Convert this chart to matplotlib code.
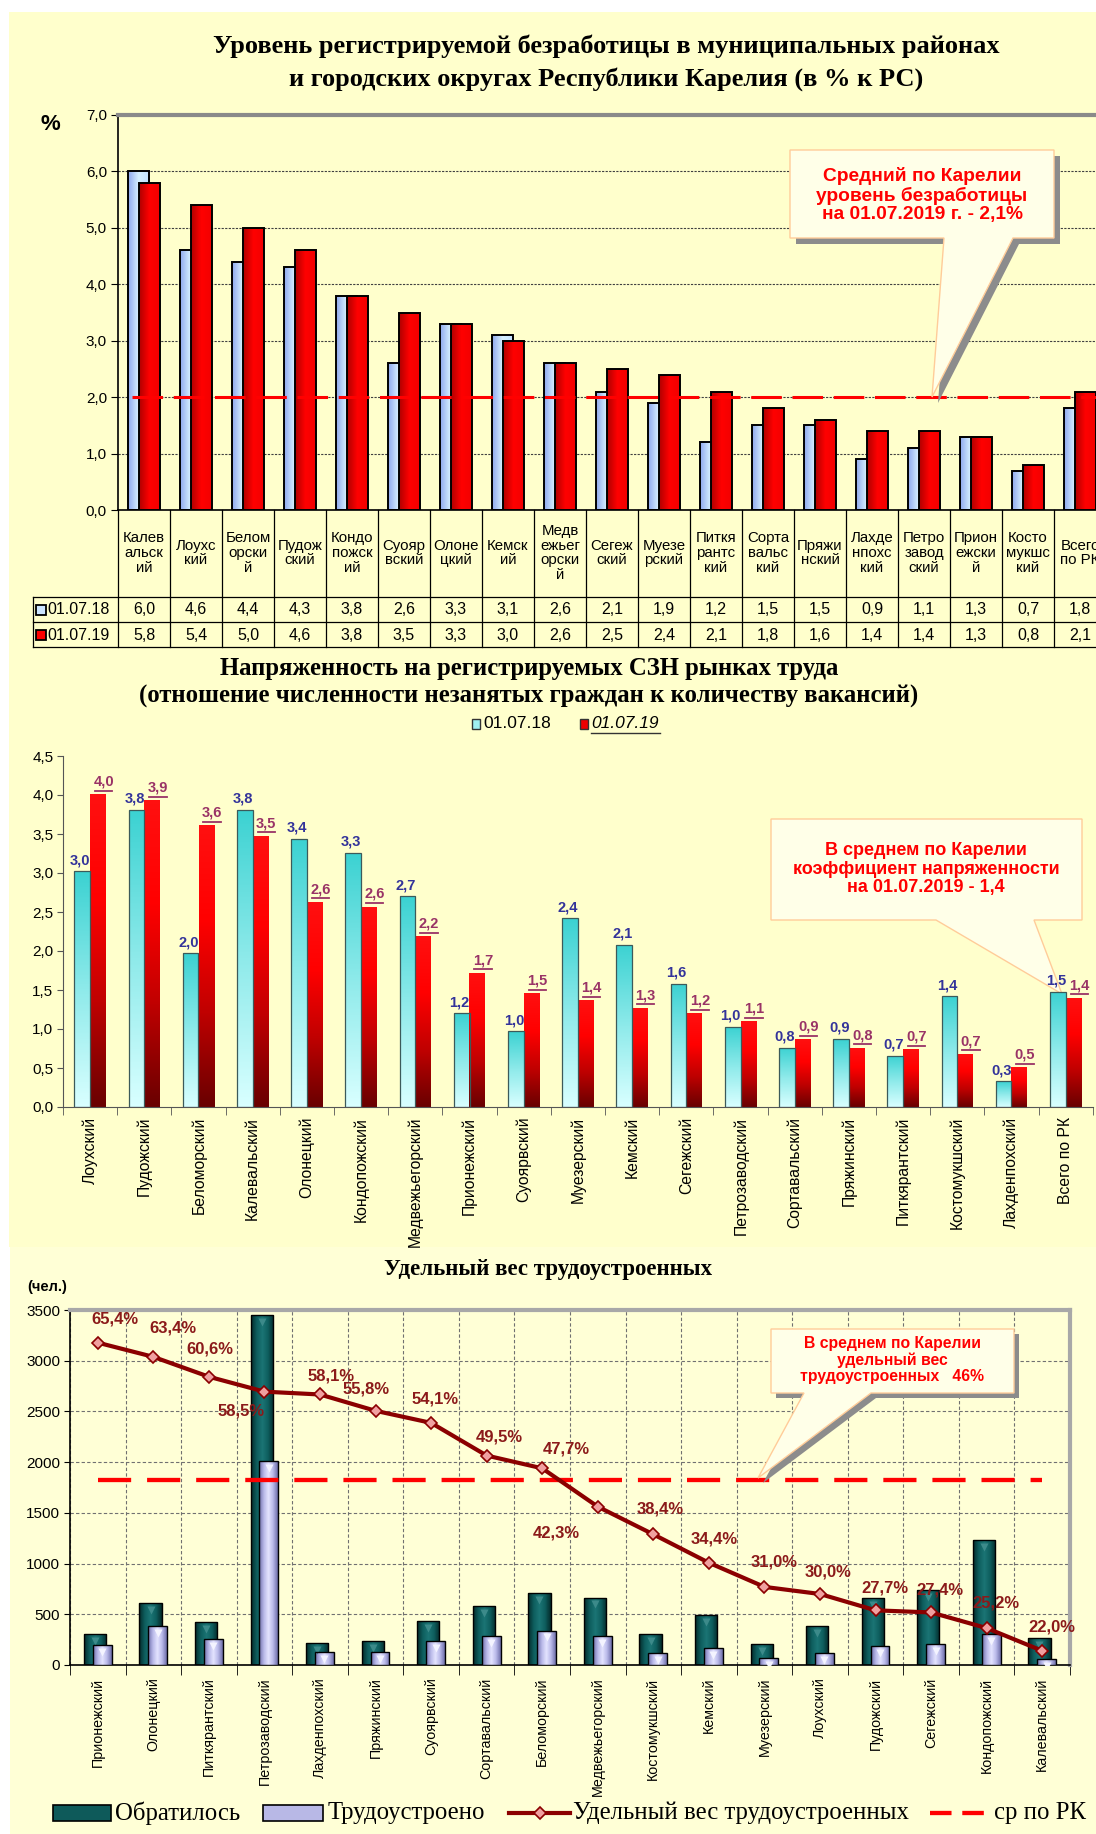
import numpy as np
import matplotlib
matplotlib.use("Agg")
import matplotlib.pyplot as plt
from matplotlib.patches import Rectangle, Polygon
from matplotlib.colors import LinearSegmentedColormap
from matplotlib import font_manager
import matplotlib.transforms as mtransforms

_names = {f.name for f in font_manager.fontManager.ttflist}
SANS = 'Liberation Sans Narrow' if 'Liberation Sans Narrow' in _names else 'Liberation Sans'
SANSW = 'Liberation Sans'
SERIF = 'Liberation Serif'
plt.rcParams['font.family'] = [SANSW, 'DejaVu Sans']

# ------------------------- DATA -------------------------
# Panel 1: registered unemployment level, %
p1_categories = ["Калев\nальск\nий", "Лоухс\nкий", "Белом\nорски\nй", "Пудож\nский",
                 "Кондо\nпожск\nий", "Суояр\nвский", "Олоне\nцкий", "Кемск\nий",
                 "Медв\nежьег\nорски\nй", "Сегеж\nский", "Муезе\nрский", "Питкя\nрантс\nкий",
                 "Сорта\nвальс\nкий", "Пряжи\nнский", "Лахде\nнпохс\nкий", "Петро\nзавод\nский",
                 "Прион\nежски\nй", "Косто\nмукшс\nкий", "Всего\nпо РК"]
p1_2018 = [6.0, 4.6, 4.4, 4.3, 3.8, 2.6, 3.3, 3.1, 2.6, 2.1, 1.9, 1.2, 1.5, 1.5, 0.9, 1.1, 1.3, 0.7, 1.8]
p1_2019 = [5.8, 5.4, 5.0, 4.6, 3.8, 3.5, 3.3, 3.0, 2.6, 2.5, 2.4, 2.1, 1.8, 1.6, 1.4, 1.4, 1.3, 0.8, 2.1]
p1_series = ["01.07.18", "01.07.19"]
p1_avg_line = 2.0
p1_yticks = [0, 1, 2, 3, 4, 5, 6, 7]

# Panel 2: labour market tension
p2_categories = ["Лоухский", "Пудожский", "Беломорский", "Калевальский", "Олонецкий",
                 "Кондопожский", "Медвежьегорский", "Прионежский", "Суоярвский", "Муезерский",
                 "Кемский", "Сегежский", "Петрозаводский", "Сортавальский", "Пряжинский",
                 "Питкярантский", "Костомукшский", "Лахденпохский", "Всего по РК"]
p2_2018 = [3.02, 3.81, 1.97, 3.81, 3.44, 3.26, 2.70, 1.20, 0.97, 2.42, 2.08, 1.58, 1.03,
           0.76, 0.87, 0.66, 1.42, 0.33, 1.48]
p2_2019 = [4.01, 3.93, 3.61, 3.48, 2.63, 2.57, 2.19, 1.72, 1.46, 1.37, 1.27, 1.20, 1.10,
           0.87, 0.76, 0.74, 0.68, 0.51, 1.40]
p2_yticks = [0, 0.5, 1.0, 1.5, 2.0, 2.5, 3.0, 3.5, 4.0, 4.5]

# Panel 3: share of employed
p3_categories = ["Прионежский", "Олонецкий", "Питкярантский", "Петрозаводский", "Лахденпохский",
                 "Пряжинский", "Суоярвский", "Сортавальский", "Беломорский", "Медвежьегорский",
                 "Костомукшский", "Кемский", "Муезерский", "Лоухский", "Пудожский", "Сегежский",
                 "Кондопожский", "Калевальский"]
p3_applied = [310, 610, 420, 3450, 220, 235, 430, 580, 710, 665, 310, 490, 210, 385, 660, 740, 1230, 265]
p3_employed = [200, 385, 255, 2015, 128, 132, 233, 287, 340, 282, 119, 169, 65, 116, 183, 203, 310, 58]
p3_share = [65.4, 63.4, 60.6, 58.5, 58.1, 55.8, 54.1, 49.5, 47.7, 42.3, 38.4, 34.4, 31.0, 30.0,
            27.7, 27.4, 25.2, 22.0]
p3_avg_share = 46
p3_yticks = [0, 500, 1000, 1500, 2000, 2500, 3000, 3500]

# label offsets (points) for the share labels
p3_label_off = [(12, 17), (14, 21), (1, 20), (-17, -14), (8, 13), (-7, 16), (3, 17), (9, 13),
                (17, 14), (-30, -19), (5, 18), (4, 17), (7, 18), (6, 16), (7, 16), (6, 16),
                (7, 18), (7, 17)]


def fmt(v, nd=1):
    return f"{v:.{nd}f}".replace('.', ',')


# ------------------------- FIGURE -------------------------
W, H = 1096, 1834
fig = plt.figure(figsize=(W / 100, H / 100), dpi=100)
fig.patch.set_facecolor('white')


def fax(l, t, r, b):
    return fig.add_axes([l / W, 1 - b / H, (r - l) / W, (b - t) / H])


def pixel_axes(z):
    a = fax(0, 0, W, H)
    a.set_xlim(0, W); a.set_ylim(H, 0); a.axis('off'); a.set_zorder(z)
    a.patch.set_alpha(0)
    return a


bg = pixel_axes(-5)
bg.add_patch(Rectangle((9, 12), W - 9, 1247 - 12, color='#FFFFCC', lw=0))
bg.add_patch(Rectangle((10, 1247), W - 10, H - 1247, color='#FFFFD6', lw=0))
under = pixel_axes(-1)   # callouts drawn beneath the data labels
ov = pixel_axes(30)


def gradient_fill(ax, bars, colors, horizontal, z):
    cmap = LinearSegmentedColormap.from_list('g', colors)
    t = np.linspace(0, 1, 64)
    arr = t[None, :] if horizontal else t[:, None]
    for p in bars:
        x0, y0, w, h = p.get_x(), p.get_y(), p.get_width(), p.get_height()
        im = ax.imshow(arr, cmap=cmap, extent=(x0, x0 + w, y0, y0 + h), origin='lower',
                       aspect='auto', interpolation='bilinear', zorder=z)
        im.set_clip_path(p)


def callout(target, pts, shadow=None, fc='#FFFFE8', ec='#FFCC99'):
    if shadow is not None:
        sp = [(x + shadow, y + shadow) for x, y in pts]
        target.add_patch(Polygon(sp, closed=True, fc='#8C8C8C', ec='none', zorder=1))
    target.add_patch(Polygon(pts, closed=True, fc=fc, ec=ec, lw=1.0, zorder=2))


# ========================= PANEL 1 =========================
ov.text(606, 46, "Уровень регистрируемой безработицы в муниципальных районах",
        ha='center', va='center', fontsize=19, fontweight='bold', family=SERIF)
ov.text(606, 79, "и городских округах Республики Карелия (в % к РС)",
        ha='center', va='center', fontsize=19, fontweight='bold', family=SERIF)
ov.text(50, 124, "%", ha='center', va='center', fontsize=16, fontweight='bold', family=SANSW)

L1, T1, R1, B1 = 118, 115, 118 + 52 * 19, 510
ax1 = fax(L1, T1, R1, B1)
ax1.patch.set_alpha(0)
n1 = len(p1_categories)
x1 = np.arange(n1) + 0.5
b1a = ax1.bar(x1 - 0.105, p1_2018, 0.39, facecolor='none', edgecolor='black', lw=1.4, zorder=2.5)
gradient_fill(ax1, b1a, ['#8FA8EE', '#D6F0FF', '#C4E2FF'], True, 2)
b1b = ax1.bar(x1 + 0.105, p1_2019, 0.39, facecolor='none', edgecolor='black', lw=1.4, zorder=3.5)
gradient_fill(ax1, b1b, ['#B00000', '#FF0000', '#F20000'], True, 3)
ax1.plot([0.27, n1], [p1_avg_line, p1_avg_line], color='#FF0000', lw=2.2, dashes=(10, 3.5),
         zorder=5, clip_on=False)
ax1.set_xlim(0, n1); ax1.set_ylim(0, 7)
ax1.set_yticks(p1_yticks)
ax1.set_yticklabels([fmt(v) for v in p1_yticks], fontsize=11, family=SANS)
ax1.set_xticks([])
ax1.yaxis.grid(True, linestyle=(0, (2, 1.2)), color='#404040', lw=0.8)
ax1.set_axisbelow(True)
ax1.tick_params(axis='y', direction='out', length=5, pad=3)
ax1.spines['right'].set_visible(False)
ax1.spines['top'].set_color('#8A8A8A'); ax1.spines['top'].set_linewidth(3)
ax1.spines['left'].set_linewidth(1.2); ax1.spines['bottom'].set_linewidth(1.2)

# table below panel 1 (x in data, y in axes fraction)
tr1 = ax1.get_xaxis_transform()
fy1 = lambda py: (B1 - py) / (B1 - T1)
xl = (33 - L1) / 52
for i in range(n1 + 1):
    ax1.plot([i, i], [0, fy1(647)], transform=tr1, color='black', lw=0.9, clip_on=False)
for py in (597, 622, 647):
    ax1.plot([xl, n1], [fy1(py), fy1(py)], transform=tr1, color='black', lw=0.9, clip_on=False)
ax1.plot([xl, xl], [fy1(597), fy1(647)], transform=tr1, color='black', lw=0.9, clip_on=False)
for i in range(n1):
    ax1.text(x1[i], fy1(553), p1_categories[i], transform=tr1, ha='center', va='center',
             fontsize=10.8, family=SANS, linespacing=1.05, clip_on=False)
    ax1.text(x1[i], fy1(610), fmt(p1_2018[i]), transform=tr1, ha='center', va='center',
             fontsize=11.5, family=SANS, clip_on=False)
    ax1.text(x1[i], fy1(635), fmt(p1_2019[i]), transform=tr1, ha='center', va='center',
             fontsize=11.5, family=SANS, clip_on=False)
for py, col, lab in ((610, '#CCE5FF', p1_series[0]), (635, '#FF0000', p1_series[1])):
    ax1.plot([(41 - L1) / 52], [fy1(py)], transform=tr1, marker='s', ms=7, mfc=col, mec='black',
             mew=1.3, clip_on=False)
    ax1.text((47 - L1) / 52, fy1(py), lab, transform=tr1, ha='left', va='center', fontsize=11.5,
             family=SANS, clip_on=False)

# callout panel 1
callout(ov, [(790, 150), (1054, 150), (1054, 238), (1013, 238), (932, 397), (944, 238), (790, 238)],
        shadow=6)
ov.text(922, 195, "Средний по Карелии\nуровень безработицы\nна 01.07.2019 г. - 2,1%",
        ha='center', va='center', color='#FF0000', fontsize=13.8, fontweight='bold',
        family=SANSW, linespacing=1.12, zorder=3)

# ========================= PANEL 2 =========================
ov.text(529, 668, "Напряженность на регистрируемых СЗН рынках труда",
        ha='center', va='center', fontsize=17.8, fontweight='bold', family=SERIF)
ov.text(529, 696, "(отношение численности незанятых граждан к количеству вакансий)",
        ha='center', va='center', fontsize=17.8, fontweight='bold', family=SERIF)
# legend
ov.add_patch(Rectangle((472, 719), 8, 10, fc='#9FF0F0', ec='#333333', lw=1))
ov.text(483, 724, p1_series[0], ha='left', va='center', fontsize=12.5, family=SANS)
ov.add_patch(Rectangle((580, 719), 8, 10, fc='#EE0000', ec='#333333', lw=1))
ov.text(591, 724, p1_series[1], ha='left', va='center', fontsize=12.5, family=SANS, style='italic')
ov.plot([591, 660], [733, 733], color='#333333', lw=1)

L2, T2, R2, B2 = 63, 756, 63 + 54.2 * 19, 1107
ax2 = fax(L2, T2, R2, B2)
ax2.patch.set_alpha(0)
n2 = len(p2_categories)
x2 = np.arange(n2) + 0.5
b2a = ax2.bar(x2 - 0.145, p2_2018, 0.29, facecolor='none', edgecolor='#3C5A5A', lw=0.9, zorder=2.5)
gradient_fill(ax2, b2a, ['#D8FFFF', '#8EEAEA', '#3CD2D2'], False, 2)
b2b = ax2.bar(x2 + 0.145, p2_2019, 0.29, facecolor='none', edgecolor='none', lw=0, zorder=2.5)
gradient_fill(ax2, b2b, ['#6A0000', '#C00000', '#FF0000', '#FF1010'], False, 2)
off_u = mtransforms.ScaledTranslation(0, 2.5 / 72, fig.dpi_scale_trans)
for i in range(n2):
    ax2.annotate(fmt(p2_2018[i]), (x2[i] - 0.18, p2_2018[i]), xytext=(0, 3), textcoords='offset points',
                 ha='center', va='bottom', color='#33339A', fontsize=10.5, fontweight='bold', family=SANS)
    ax2.annotate(fmt(p2_2019[i]), (x2[i] + 0.25, p2_2019[i]), xytext=(0, 4), textcoords='offset points',
                 ha='center', va='bottom', color='#993366', fontsize=10.5, fontweight='bold', family=SANS)
    ax2.plot([x2[i] + 0.09, x2[i] + 0.41], [p2_2019[i]] * 2, transform=ax2.transData + off_u,
             color='#993366', lw=1.3, clip_on=False)
ax2.set_xlim(0, n2); ax2.set_ylim(0, 4.5)
ax2.set_yticks(p2_yticks)
ax2.set_yticklabels([fmt(v) for v in p2_yticks], fontsize=11, family=SANS)
ax2.set_xticks(x2)
ax2.set_xticklabels(p2_categories, rotation=90, fontsize=11.3, family=SANSW, va='top', ha='center')
ax2.set_xticks(np.arange(n2 + 1), minor=True)
ax2.tick_params(axis='x', which='major', length=0, pad=7)
ax2.tick_params(axis='x', which='minor', length=6, direction='out', color='#555555')
ax2.tick_params(axis='y', direction='out', length=4, color='#555555', pad=3)
for s in ('top', 'right'):
    ax2.spines[s].set_visible(False)
for s in ('left', 'bottom'):
    ax2.spines[s].set_color('#555555')

# callout panel 2 (beneath the bars and labels)
callout(under, [(771, 819), (1082, 819), (1082, 920), (1034, 920), (1062, 994), (936, 920), (771, 920)])
under.text(926, 869, "В среднем по Карелии\nкоэффициент напряженности\nна 01.07.2019 - 1,4",
           ha='center', va='center', color='#FF0000', fontsize=13, fontweight='bold',
           family=SANS, linespacing=1.15, zorder=3)

# ========================= PANEL 3 =========================
ov.text(548, 1269, "Удельный вес трудоустроенных", ha='center', va='center', fontsize=16.5,
        fontweight='bold', family=SERIF)
ov.text(47, 1287, "(чел.)", ha='center', va='center', fontsize=10.5, fontweight='bold', family=SANSW)

L3, T3, R3, B3 = 70, 1310, 1070, 1665
ax3 = fax(L3, T3, R3, B3)
ax3.patch.set_alpha(0)
n3 = len(p3_categories)
x3 = np.arange(n3) + 0.5
b3a = ax3.bar(x3 - 0.05, p3_applied, 0.40, facecolor='none', edgecolor='black', lw=1.0, zorder=2.5)
gradient_fill(ax3, b3a, ['#042A2A', '#0E5E5E', '#1B7575', '#0E5E5E', '#042A2A'], True, 2)
b3b = ax3.bar(x3 + 0.08, p3_employed, 0.34, facecolor='none', edgecolor='black', lw=1.0, zorder=3.5)
gradient_fill(ax3, b3b, ['#6E6EAA', '#B8B8E8', '#E4E4FF', '#B8B8E8', '#6E6EAA'], True, 3)
off_t = mtransforms.ScaledTranslation(0, -5 / 72, fig.dpi_scale_trans)
ax3.plot(x3 - 0.05, p3_applied, ls='none', marker='v', ms=6, mfc='#3C8A8A', mec='none',
         transform=ax3.transData + off_t, zorder=3)
ax3.plot(x3 + 0.08, p3_employed, ls='none', marker='v', ms=6, mfc='#F4F4FF', mec='none',
         transform=ax3.transData + off_t, zorder=4)
ax3.set_xlim(0, n3); ax3.set_ylim(0, 3500)
ax3.set_yticks(p3_yticks)
ax3.set_yticklabels([str(v) for v in p3_yticks], fontsize=11, family=SANS)
ax3.set_xticks(x3)
ax3.set_xticklabels(p3_categories, rotation=90, fontsize=10.3, family=SANSW, va='top', ha='center')
ax3.set_xticks(np.arange(n3 + 1), minor=True)
ax3.tick_params(axis='x', which='major', length=0, pad=9)
ax3.tick_params(axis='x', which='minor', length=7, direction='out')
ax3.tick_params(axis='y', direction='out', length=4, pad=3)
ax3.grid(which='minor', axis='x', linestyle=(0, (3, 2)), color='#707070', lw=0.8)
ax3.grid(which='major', axis='y', linestyle=(0, (3, 2)), color='#707070', lw=0.8)
ax3.set_axisbelow(True)
for s in ('top', 'right'):
    ax3.spines[s].set_color('#A8A8A8'); ax3.spines[s].set_linewidth(3)
for s in ('left', 'bottom'):
    ax3.spines[s].set_linewidth(1.2)

ax3b = ax3.twinx()
ax3b.set_ylim(20, 70)
ax3b.axis('off')
ax3b.plot([x3[0], x3[-1]], [p3_avg_share, p3_avg_share], color='#FF0000', lw=3.1,
          dashes=(7.7, 3.7), zorder=2)
ax3b.plot(x3, p3_share, color='#8B0000', lw=3, marker='D', ms=6, mfc='#F0A0A0',
          mec='#8B0000', mew=1.2, zorder=3)
for i in range(n3):
    ax3b.annotate(fmt(p3_share[i]) + '%', (x3[i], p3_share[i]), xytext=p3_label_off[i],
                  textcoords='offset points', ha='center', va='center', color='#8B1A1A',
                  fontsize=12, fontweight='bold', family=SANS)
ax3b.set_xlim(0, n3)

# callout panel 3
callout(ov, [(771, 1329), (1014, 1329), (1014, 1393), (871, 1393), (758, 1478), (804, 1393), (771, 1393)],
        shadow=5)
ov.text(892, 1360, "В среднем по Карелии\nудельный вес\nтрудоустроенных   46%",
        ha='center', va='center', color='#FF0000', fontsize=11.3, fontweight='bold',
        family=SANSW, linespacing=1.1, zorder=3)

# legend panel 3
ov.add_patch(Rectangle((53, 1805), 58, 16, fc='#0E5A5A', ec='black', lw=1.2))
ov.text(115, 1813, "Обратилось", ha='left', va='center', fontsize=17.8, family=SERIF)
ov.add_patch(Rectangle((263, 1805), 60, 16, fc='#B8B8E6', ec='black', lw=1.2))
ov.text(328, 1813, "Трудоустроено", ha='left', va='center', fontsize=17.8, family=SERIF)
ov.plot([509, 570], [1813, 1813], color='#8B0000', lw=3)
ov.plot([539.5], [1813], marker='D', ms=6, mfc='#F0A0A0', mec='#8B0000', mew=1.2)
ov.text(573, 1813, "Удельный вес трудоустроенных", ha='left', va='center', fontsize=17.8, family=SERIF)
ov.plot([930, 990], [1813, 1813], color='#FF0000', lw=3.1, dashes=(5, 2.5))
ov.text(994, 1813, "ср по РК", ha='left', va='center', fontsize=17.8, family=SERIF)

fig.savefig('out.png', dpi=100)
